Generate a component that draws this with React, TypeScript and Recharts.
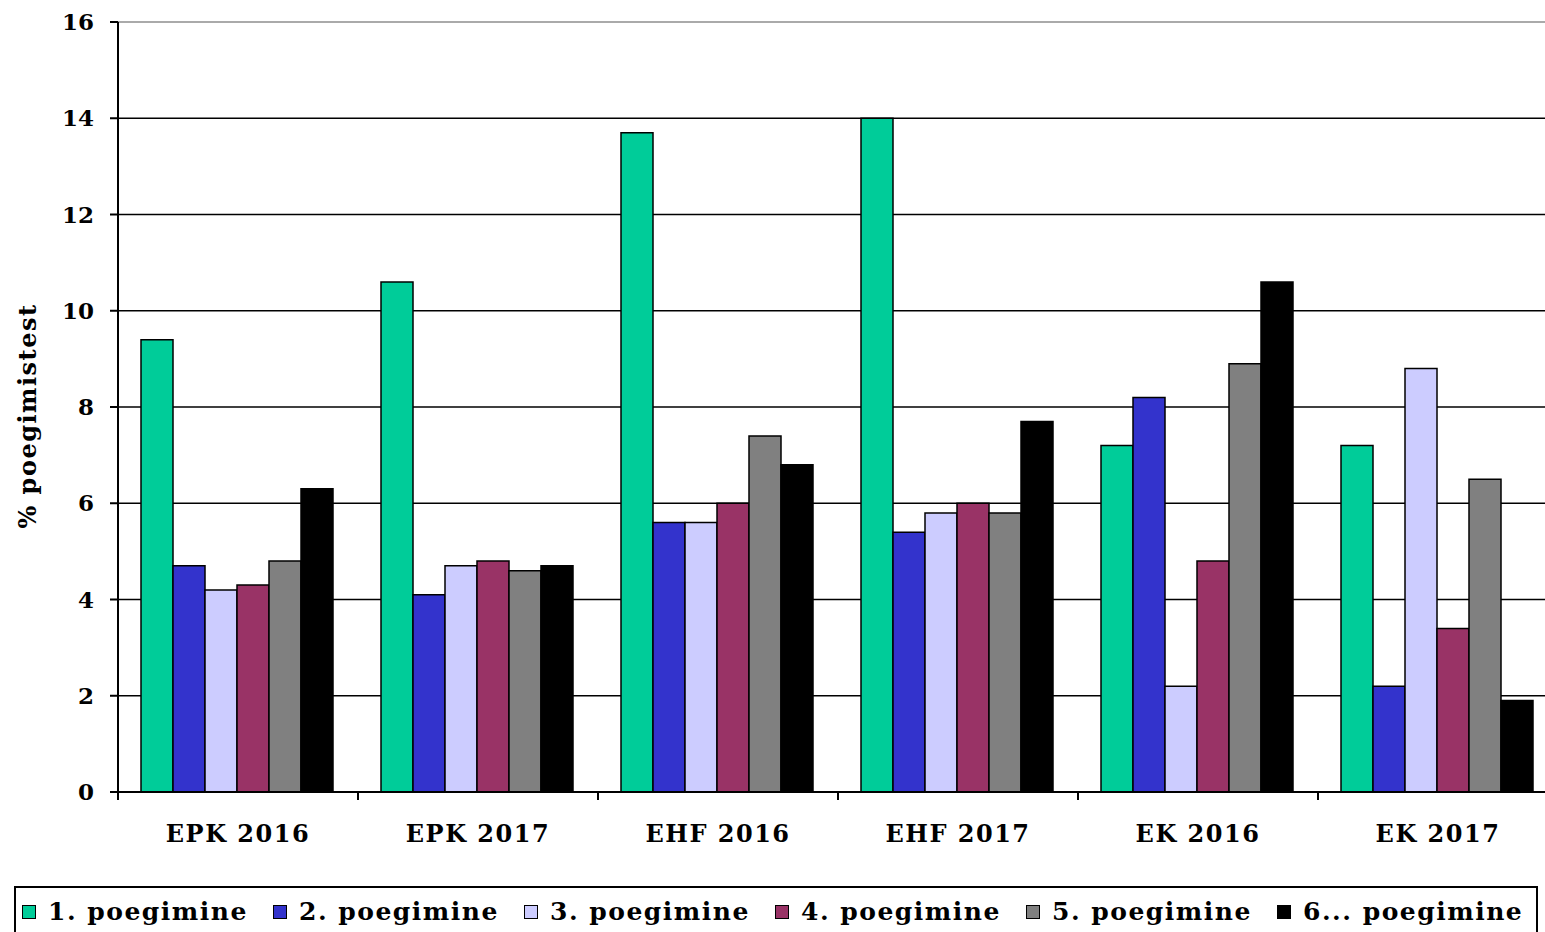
import { BarChart, Bar, XAxis, YAxis, CartesianGrid, Legend, ReferenceLine } from "recharts";

const categories = ["EPK 2016", "EPK 2017", "EHF 2016", "EHF 2017", "EK 2016", "EK 2017"];
const seriesNames = ["1. poegimine", "2. poegimine", "3. poegimine", "4. poegimine", "5. poegimine", "6... poegimine"];
const seriesColors = ["#00CC99", "#3333CC", "#CCCCFF", "#993366", "#808080", "#000000"];

const first = [9.4, 10.6, 13.7, 14.0, 7.2, 7.2];
const second = [4.7, 4.1, 5.6, 5.4, 8.2, 2.2];
const third = [4.2, 4.7, 5.6, 5.8, 2.2, 8.8];
const fourth = [4.3, 4.8, 6.0, 6.0, 4.8, 3.4];
const fifth = [4.8, 4.6, 7.4, 5.8, 8.9, 6.5];
const sixth = [6.3, 4.7, 6.8, 7.7, 10.6, 1.9];

const yTicks = [0, 2, 4, 6, 8, 10, 12, 14, 16];

const seriesValues = [first, second, third, fourth, fifth, sixth];
const data = categories.map((name, i) => {
  const row: Record<string, string | number> = { name };
  seriesValues.forEach((vals, s) => {
    row["s" + s] = vals[i];
  });
  return row;
});

const font = "'DejaVu Serif', Georgia, serif";
const CHART_W = 1558;
const PLOT_LEFT = 118;
const BAND = (CHART_W - PLOT_LEFT) / categories.length;

// category label plus a tick mark at the left edge of each band
function CategoryTick(props: any) {
  const { x, y, payload } = props;
  return (
    <g>
      <line x1={x - BAND / 2} x2={x - BAND / 2} y1={y - 8} y2={y} stroke="#000" strokeWidth={2} />
      <text
        x={x}
        y={y + 42}
        textAnchor="middle"
        fill="#000"
        style={{ fontFamily: font, fontWeight: "bold", fontSize: 24, letterSpacing: 1.5 }}
      >
        {payload.value}
      </text>
    </g>
  );
}

function YTitle(props: any) {
  const { viewBox } = props;
  const cy = viewBox.y + viewBox.height / 2 + 9;
  const cx = 36;
  return (
    <text
      x={cx}
      y={cy}
      transform={`rotate(-90, ${cx}, ${cy})`}
      textAnchor="middle"
      fill="#000"
      style={{ fontFamily: font, fontWeight: "bold", fontSize: 24, letterSpacing: 1.5 }}
    >
      % poegimistest
    </text>
  );
}

function LegendBox() {
  return (
    <div
      style={{
        position: "absolute",
        left: 14,
        top: 886,
        width: 1524,
        height: 60,
        border: "2px solid #000",
        boxSizing: "border-box",
        display: "flex",
        alignItems: "flex-start",
        paddingTop: 9,
        paddingLeft: 6,
        fontFamily: font,
        fontWeight: "bold",
        fontSize: 25,
        letterSpacing: 1.5,
        color: "#000",
      }}
    >
      {seriesNames.map((n, i) => (
        <div key={n} style={{ width: 251, display: "flex", alignItems: "center", whiteSpace: "nowrap" }}>
          <span
            style={{
              display: "inline-block",
              width: 12,
              height: 12,
              background: seriesColors[i],
              border: "1.5px solid #000",
              marginRight: 12,
            }}
          />
          {n}
        </div>
      ))}
    </div>
  );
}

export default function App() {
  return (
    <div
      style={{
        position: "absolute",
        left: 0,
        top: 0,
        width: 1545,
        height: 932,
        overflow: "hidden",
        background: "#fff",
      }}
    >
      <BarChart
        width={CHART_W}
        height={932}
        data={data}
        margin={{ top: 22, right: 0, left: 0, bottom: 60 }}
        barCategoryGap={23}
        barGap={0}
      >
        <CartesianGrid vertical={false} stroke="#000" strokeWidth={1.5} />
        <XAxis
          dataKey="name"
          axisLine={{ stroke: "#000", strokeWidth: 2 }}
          tickLine={false}
          height={80}
          tick={<CategoryTick />}
          interval={0}
        />
        <YAxis
          domain={[0, 16]}
          ticks={yTicks}
          width={PLOT_LEFT}
          tickSize={8}
          tickLine={{ stroke: "#000", strokeWidth: 2 }}
          axisLine={{ stroke: "#000", strokeWidth: 2 }}
          tick={{ fill: "#000", fontFamily: font, fontWeight: "bold", fontSize: 23 }}
          tickMargin={16}
          label={<YTitle />}
        />
        <ReferenceLine y={16} stroke="#aaa" strokeWidth={2} />
        {seriesNames.map((n, i) => (
          <Bar
            key={n}
            dataKey={"s" + i}
            name={n}
            fill={seriesColors[i]}
            stroke="#000"
            strokeWidth={1.5}
            isAnimationActive={false}
          />
        ))}
        <Legend content={() => null} />
      </BarChart>
      <LegendBox />
    </div>
  );
}
